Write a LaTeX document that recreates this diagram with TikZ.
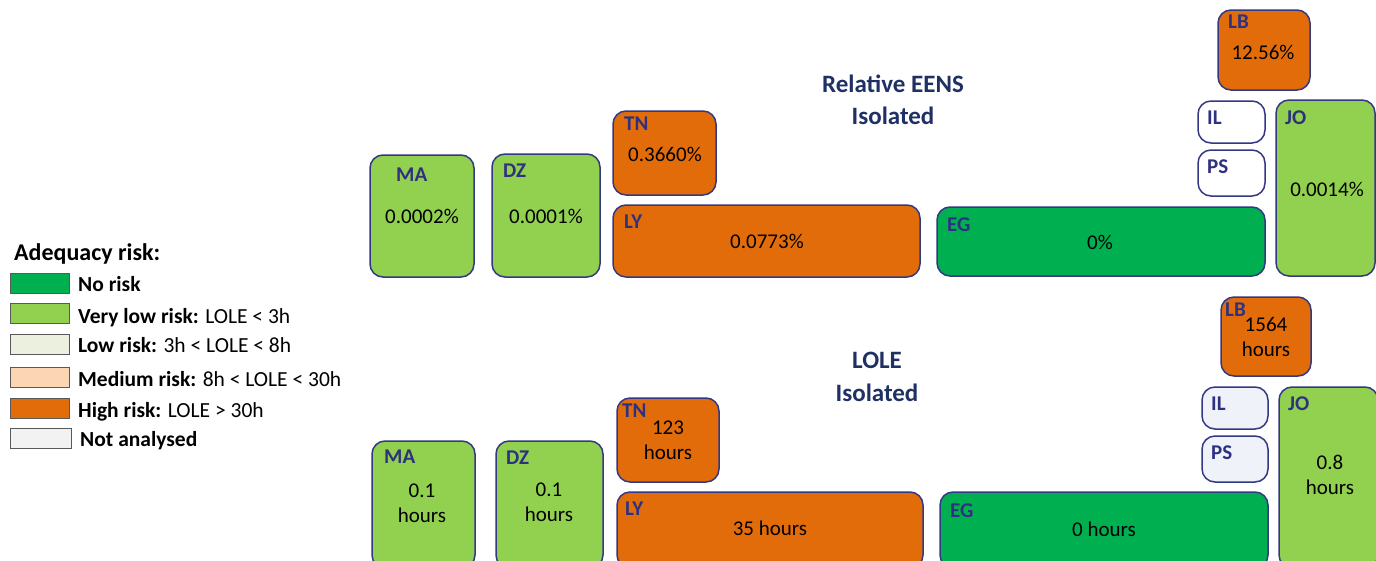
\documentclass[tikz,border=0pt]{standalone}
\usepackage{fontspec}
\setmainfont{Carlito}
\definecolor{navy}{RGB}{46,49,128}
\definecolor{titleblue}{RGB}{31,48,100}
\definecolor{edge}{RGB}{50,56,130}
\definecolor{norisk}{RGB}{0,176,80}
\definecolor{verylow}{RGB}{146,208,80}
\definecolor{lowrisk}{RGB}{235,241,222}
\definecolor{medrisk}{RGB}{252,213,181}
\definecolor{highrisk}{RGB}{227,108,10}
\definecolor{notanal}{RGB}{242,242,242}
\definecolor{lavender}{RGB}{240,242,250}
\tikzset{
  box/.style={draw=edge, line width=1.5pt, rounded corners=13pt, inner sep=0pt},
  code/.style={font=\fontsize{21}{21}\selectfont\bfseries, text=navy, anchor=west, inner sep=0pt},
  val/.style={font=\fontsize{21}{25}\selectfont, text=black, align=center, inner sep=0pt},
  ttl/.style={font=\fontsize{25}{32.5}\selectfont\bfseries, text=titleblue, align=center, inner sep=0pt},
  swatch/.style={draw=gray!70!black, line width=0.6pt, minimum width=59pt, minimum height=20pt, inner sep=0pt},
  legtxt/.style={font=\fontsize{21.5}{21.5}\selectfont, anchor=base west, inner sep=0pt},
}
% country block given by its corners (x1,y1) and (x2,y2)
\newcommand\region[6]{%
  \node[box, fill=#6, minimum width={(#4-#2)*1pt}, minimum height={(#5-#3)*1pt}]
    (#1) at ({(#2+#4)/2},{(#3+#5)/2}) {};}
\begin{document}
\begin{tikzpicture}[x=1pt,y=-1pt]
\useasboundingbox (0,0) rectangle (1376,560);
\clip (0,0) rectangle (1376,560);

% ---------- legend ----------
\node[font=\fontsize{24}{24}\selectfont\bfseries, anchor=base west, inner sep=0pt] (legtitle) at (14,260) {Adequacy risk:};
\node[swatch, fill=norisk]   (sw1) at (39.5,283) {};
\node[swatch, fill=verylow]  (sw2) at (39.5,313) {};
\node[swatch, fill=lowrisk]  (sw3) at (39.5,344) {};
\node[swatch, fill=medrisk]  (sw4) at (39.5,377) {};
\node[swatch, fill=highrisk] (sw5) at (39.5,408) {};
\node[swatch, fill=notanal, minimum width=61pt] (sw6) at (40.5,438) {};
\node[legtxt] (lt1) at (78,291) {\textbf{No risk}};
\node[legtxt] (lt2) at (78,323) {\textbf{Very low risk:} LOLE < 3h};
\node[legtxt] (lt3) at (78,352) {\textbf{Low risk:} 3h < LOLE < 8h};
\node[legtxt] (lt4) at (78,386) {\textbf{Medium risk:} 8h < LOLE < 30h};
\node[legtxt] (lt5) at (78,417) {\textbf{High risk:} LOLE > 30h};
\node[legtxt] (lt6) at (80,446) {\textbf{Not analysed}};

% ---------- relative EENS ----------
\node[ttl] (t1) at (893,100) {Relative EENS\\Isolated};
\region{ma1}{370}{155}{474}{277}{verylow}
\region{dz1}{492}{154}{600}{277}{verylow}
\region{tn1}{613}{111}{716}{195}{highrisk}
\region{ly1}{613}{205}{920}{277}{highrisk}
\region{eg1}{937}{207}{1265}{276}{norisk}
\region{il1}{1198}{101}{1265}{143}{white}
\region{ps1}{1198}{150}{1265}{196}{white}
\region{jo1}{1276}{100}{1375}{276}{verylow}
\region{lb1}{1218}{10}{1310}{90}{highrisk}
\node[code] (ma1c) at (396,175) {MA};
\node[code] (dz1c) at (503,171) {DZ};
\node[code] (tn1c) at (624,124) {TN};
\node[code] (ly1c) at (624,222) {LY};
\node[code] (eg1c) at (947,225) {EG};
\node[code] (il1c) at (1207,118) {IL};
\node[code] (ps1c) at (1207,167) {PS};
\node[code] (jo1c) at (1285,118) {JO};
\node[code] (lb1c) at (1228,22) {LB};
\node[val] (ma1v) at (422,216) {0.0002\%};
\node[val] (dz1v) at (546,216) {0.0001\%};
\node[val] (tn1v) at (665,154) {0.3660\%};
\node[val] (ly1v) at (767,241) {0.0773\%};
\node[val] (eg1v) at (1100,242) {0\%};
\node[val] (jo1v) at (1327,189) {0.0014\%};
\node[val] (lb1v) at (1263,52) {12.56\%};

% ---------- LOLE ----------
\node[ttl] (t2) at (877,377) {LOLE\\Isolated};
\region{ma2}{372}{441}{475}{568}{verylow}
\region{dz2}{496}{441}{603}{568}{verylow}
\region{tn2}{617}{398}{719}{482}{highrisk}
\region{ly2}{617}{492}{923}{568}{highrisk}
\region{eg2}{940}{492}{1268}{568}{norisk}
\region{il2}{1202}{387}{1268}{429}{lavender}
\region{ps2}{1202}{436}{1268}{482}{lavender}
\region{jo2}{1279}{387}{1378}{568}{verylow}
\region{lb2}{1221}{297}{1311}{376}{highrisk}
\node[code] (ma2c) at (384,457) {MA};
\node[code] (dz2c) at (506,458) {DZ};
\node[code] (tn2c) at (622,411) {TN};
\node[code] (ly2c) at (625,509) {LY};
\node[code] (eg2c) at (950,511) {EG};
\node[code] (il2c) at (1211,404) {IL};
\node[code] (ps2c) at (1211,453) {PS};
\node[code] (jo2c) at (1288,404) {JO};
\node[code] (lb2c) at (1225,310) {LB};
\node[val] (ma2v) at (422,503) {0.1\\hours};
\node[val] (dz2v) at (549,502) {0.1\\hours};
\node[val] (tn2v) at (668,440) {123\\hours};
\node[val] (ly2v) at (770,528) {35 hours};
\node[val] (eg2v) at (1104,529) {0 hours};
\node[val] (jo2v) at (1330,475) {0.8\\hours};
\node[val] (lb2v) at (1266,337) {1564\\hours};
\end{tikzpicture}
\end{document}
